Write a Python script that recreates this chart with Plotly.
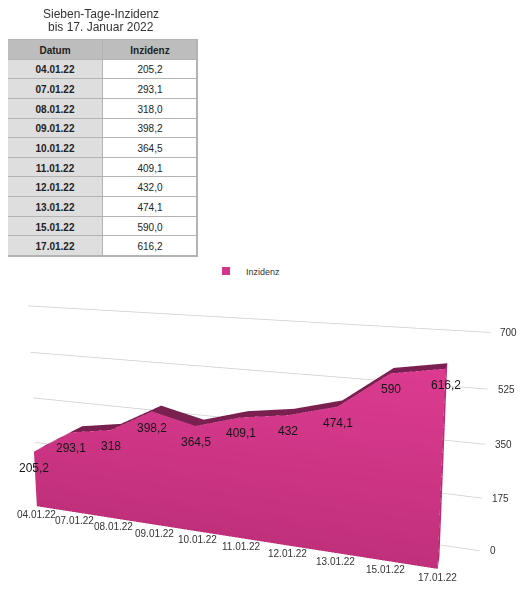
import plotly.graph_objects as go

datum = ["04.01.22", "07.01.22", "08.01.22", "09.01.22", "10.01.22",
         "11.01.22", "12.01.22", "13.01.22", "15.01.22", "17.01.22"]
inzidenz = [205.2, 293.1, 318.0, 398.2, 364.5, 409.1, 432.0, 474.1, 590.0, 616.2]
z_ticks = [0, 175, 350, 525, 700]
spalten = ["Datum", "Inzidenz"]

pink_lo = "#c0307a"
pink_hi = "#e03c93"
dark = "#7a2050"
depth = 0.45      # thickness of the area slab (box depth = 1)

W, H = 518, 591   # page body has an 8px margin
n = len(datum)
xs = list(range(n))
x_min, x_max = -0.67, n - 1 + 0.75


def fmt(v):
    return f"{v:g}".replace(".", ",")


# front face of the area (y = 0)
fx, fy, fz = [], [], []
for i in xs:
    fx += [i, i]
    fy += [0, 0]
    fz += [0, inzidenz[i]]
fi, fj, fk = [], [], []
for k in range(n - 1):
    b0, t0, b1, t1 = 2 * k, 2 * k + 1, 2 * k + 2, 2 * k + 3
    fi += [b0, t0]
    fj += [t0, t1]
    fk += [b1, b1]

# top strip
tx, ty, tz = [], [], []
for i in xs:
    tx += [i, i]
    ty += [0, depth]
    tz += [inzidenz[i], inzidenz[i]]
ti, tj, tk = [], [], []
for k in range(n - 1):
    a0, a1, b0, b1 = 2 * k, 2 * k + 1, 2 * k + 2, 2 * k + 3
    ti += [a0, a1]
    tj += [a1, b1]
    tk += [b0, b0]

# gridlines on the back wall
gx, gy, gz = [], [], []
for t in z_ticks:
    gx += [x_min, x_max, None]
    gy += [1, 1, None]
    gz += [t, t, None]

flat = dict(ambient=1, diffuse=0, specular=0, roughness=1, fresnel=0)

fig = go.Figure()
fig.add_trace(go.Scatter3d(x=gx, y=gy, z=gz, mode="lines",
                           line=dict(color="#cdcdcd", width=1.5),
                           showlegend=False, hoverinfo="skip"))
fig.add_trace(go.Mesh3d(x=fx, y=fy, z=fz, i=fi, j=fj, k=fk,
                        intensity=fz, colorscale=[[0, pink_lo], [1, pink_hi]],
                        cmin=0, cmax=700, showscale=False,
                        lighting=flat, showlegend=False, hoverinfo="skip"))
fig.add_trace(go.Mesh3d(x=tx, y=ty, z=tz, i=ti, j=tj, k=tk, color=dark,
                        lighting=flat, showlegend=False, hoverinfo="skip"))
fig.add_trace(go.Mesh3d(x=[n - 1] * 4, y=[0, depth, depth, 0],
                        z=[0, 0, inzidenz[-1], inzidenz[-1]],
                        i=[0, 0], j=[1, 2], k=[2, 3], color="#b52c72",
                        lighting=flat, showlegend=False, hoverinfo="skip"))

# legend entry
fig.add_trace(go.Scatter(x=[None], y=[None], mode="markers", name="Inzidenz",
                         marker=dict(symbol="square", size=8, color="#d2358a"),
                         xaxis="x", yaxis="y"))

# table drawn as a heatmap
tab_z = [[0, 0]] + [[1, 2] for _ in datum]
tab_text = [["<b>" + s + "</b>" for s in spalten]] + \
           [["<b>" + d + "</b>", f"{v:.1f}".replace(".", ",")]
            for d, v in zip(datum, inzidenz)]
fig.add_trace(go.Heatmap(z=tab_z, x=[0, 1], y=list(range(n + 1)),
                         text=tab_text, texttemplate="%{text}",
                         textfont=dict(size=10, color="#222222"),
                         colorscale=[[0, "#bdbdbd"], [0.5, "#dedede"], [1, "#ffffff"]],
                         zmin=0, zmax=2, showscale=False, xgap=1, ygap=1,
                         hoverinfo="skip", xaxis="x", yaxis="y"))

fig.add_annotation(text="Sieben-Tage-Inzidenz", x=93 / W, y=1 - 6 / H,
                   xref="paper", yref="paper", xanchor="center", yanchor="middle",
                   showarrow=False, font=dict(size=12, color="#333333"))
fig.add_annotation(text="bis 17. Januar 2022", x=93 / W, y=1 - 19 / H,
                   xref="paper", yref="paper", xanchor="center", yanchor="middle",
                   showarrow=False, font=dict(size=12, color="#333333"))

scene_ann = []
for i, d in enumerate(datum):
    scene_ann.append(dict(x=i, y=0, z=0, text=d, showarrow=False,
                          xanchor="center", yanchor="top", yshift=-1,
                          font=dict(size=10, color="#333333")))
for i, v in enumerate(inzidenz):
    scene_ann.append(dict(x=i, y=0, z=v, text=fmt(v), showarrow=False,
                          xanchor="center", yanchor="middle", yshift=-16,
                          font=dict(size=12, color="#161616")))
for t in z_ticks:
    scene_ann.append(dict(x=x_max, y=1, z=t, text=str(t), showarrow=False,
                          xanchor="left", xshift=8,
                          font=dict(size=10, color="#333333")))

fig.update_layout(
    width=W, height=H,
    margin=dict(l=0, r=0, t=0, b=0),
    paper_bgcolor="white",
    plot_bgcolor="#b3b3b3",
    font=dict(family="Liberation Sans, Arial, sans-serif"),
    showlegend=True,
    legend=dict(orientation="h", x=(226 - 8 - 20) / W, y=1 - 263 / H,
                xanchor="left", yanchor="middle",
                font=dict(size=9, color="#333333")),
    xaxis=dict(domain=[0, 189 / W], range=[-0.5, 1.5],
               showticklabels=False, ticks="", showgrid=False, zeroline=False,
               showline=True, mirror=True, linecolor="#b3b3b3", fixedrange=True),
    yaxis=dict(domain=[1 - 248 / H, 1 - 32 / H], range=[n + 0.5, -0.5],
               showticklabels=False, ticks="", showgrid=False, zeroline=False,
               showline=True, mirror=True, linecolor="#b3b3b3", fixedrange=True),
    scene=dict(
        domain=dict(x=[0, 1], y=[0, 1]),
        aspectmode="manual",
        aspectratio=dict(x=2.6877, y=0.252, z=1.157),
        camera=dict(eye=dict(x=1.3499, y=-3.5101, z=1.2721),
                    center=dict(x=0.2329, y=-0.0311, z=0.6934),
                    up=dict(x=0, y=0, z=1)),
        xaxis=dict(title="", showticklabels=False, ticks="",
                   showgrid=False, zeroline=False, showline=False,
                   showbackground=False, showspikes=False, range=[x_min, x_max]),
        yaxis=dict(title="", showticklabels=False, ticks="", showgrid=False,
                   zeroline=False, showline=False, showbackground=False,
                   showspikes=False, range=[0, 1]),
        zaxis=dict(title="", tickvals=z_ticks, range=[0, 700], showticklabels=False,
                   ticks="", showgrid=False, showline=False, zeroline=False,
                   showbackground=False, showspikes=False),
        annotations=scene_ann,
    ),
)

fig.write_html("out.html")
